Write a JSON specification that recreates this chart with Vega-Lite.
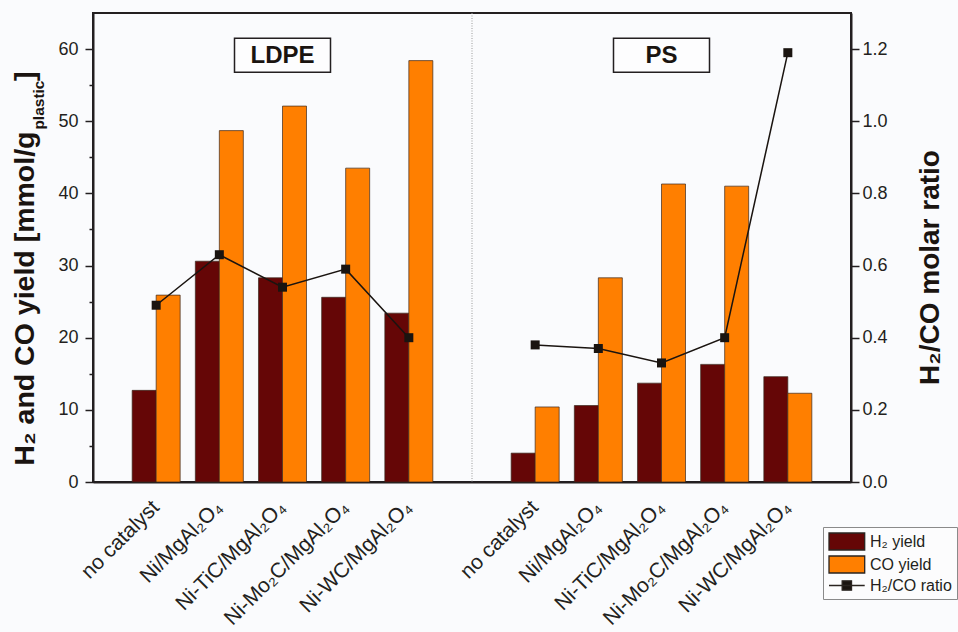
{
  "$schema": "https://vega.github.io/schema/vega-lite/v6.json",
  "width": 758,
  "height": 469,
  "autosize": {"type": "none"},
  "padding": {"left": 93, "top": 13, "right": 107, "bottom": 150},
  "background": "#fafbfd",
  "config": {
    "font": "Liberation Sans",
    "view": {"stroke": "#231f20", "strokeWidth": 2, "fill": "#fafbfd"},
    "axis": {
      "domainColor": "#231f20", "domainWidth": 2,
      "tickColor": "#231f20", "tickWidth": 1.5,
      "labelColor": "#231f20", "labelFont": "Liberation Sans",
      "titleFont": "Liberation Sans", "titleColor": "#1a1410", "grid": false
    }
  },
  "datasets": {
    "yields": [
      {"key": "LDPE|no catalyst", "polymer": "LDPE", "series": "H₂ yield", "value": 12.7},
      {"key": "LDPE|no catalyst", "polymer": "LDPE", "series": "CO yield", "value": 25.9},
      {"key": "LDPE|Ni/MgAl₂O₄", "polymer": "LDPE", "series": "H₂ yield", "value": 30.6},
      {"key": "LDPE|Ni/MgAl₂O₄", "polymer": "LDPE", "series": "CO yield", "value": 48.7},
      {"key": "LDPE|Ni-TiC/MgAl₂O₄", "polymer": "LDPE", "series": "H₂ yield", "value": 28.3},
      {"key": "LDPE|Ni-TiC/MgAl₂O₄", "polymer": "LDPE", "series": "CO yield", "value": 52.1},
      {"key": "LDPE|Ni-Mo₂C/MgAl₂O₄", "polymer": "LDPE", "series": "H₂ yield", "value": 25.6},
      {"key": "LDPE|Ni-Mo₂C/MgAl₂O₄", "polymer": "LDPE", "series": "CO yield", "value": 43.5},
      {"key": "LDPE|Ni-WC/MgAl₂O₄", "polymer": "LDPE", "series": "H₂ yield", "value": 23.4},
      {"key": "LDPE|Ni-WC/MgAl₂O₄", "polymer": "LDPE", "series": "CO yield", "value": 58.4},
      {"key": "PS|no catalyst", "polymer": "PS", "series": "H₂ yield", "value": 4.0},
      {"key": "PS|no catalyst", "polymer": "PS", "series": "CO yield", "value": 10.4},
      {"key": "PS|Ni/MgAl₂O₄", "polymer": "PS", "series": "H₂ yield", "value": 10.6},
      {"key": "PS|Ni/MgAl₂O₄", "polymer": "PS", "series": "CO yield", "value": 28.3},
      {"key": "PS|Ni-TiC/MgAl₂O₄", "polymer": "PS", "series": "H₂ yield", "value": 13.7},
      {"key": "PS|Ni-TiC/MgAl₂O₄", "polymer": "PS", "series": "CO yield", "value": 41.3},
      {"key": "PS|Ni-Mo₂C/MgAl₂O₄", "polymer": "PS", "series": "H₂ yield", "value": 16.3},
      {"key": "PS|Ni-Mo₂C/MgAl₂O₄", "polymer": "PS", "series": "CO yield", "value": 41.0},
      {"key": "PS|Ni-WC/MgAl₂O₄", "polymer": "PS", "series": "H₂ yield", "value": 14.6},
      {"key": "PS|Ni-WC/MgAl₂O₄", "polymer": "PS", "series": "CO yield", "value": 12.3}
    ],
    "ratios": [
      {"key": "LDPE|no catalyst", "polymer": "LDPE", "ratio": 0.49},
      {"key": "LDPE|Ni/MgAl₂O₄", "polymer": "LDPE", "ratio": 0.63},
      {"key": "LDPE|Ni-TiC/MgAl₂O₄", "polymer": "LDPE", "ratio": 0.54},
      {"key": "LDPE|Ni-Mo₂C/MgAl₂O₄", "polymer": "LDPE", "ratio": 0.59},
      {"key": "LDPE|Ni-WC/MgAl₂O₄", "polymer": "LDPE", "ratio": 0.40},
      {"key": "PS|no catalyst", "polymer": "PS", "ratio": 0.38},
      {"key": "PS|Ni/MgAl₂O₄", "polymer": "PS", "ratio": 0.37},
      {"key": "PS|Ni-TiC/MgAl₂O₄", "polymer": "PS", "ratio": 0.33},
      {"key": "PS|Ni-Mo₂C/MgAl₂O₄", "polymer": "PS", "ratio": 0.40},
      {"key": "PS|Ni-WC/MgAl₂O₄", "polymer": "PS", "ratio": 1.19}
    ],
    "panels": [
      {"key": "LDPE|Ni-TiC/MgAl₂O₄", "label": "LDPE"},
      {"key": "PS|Ni-TiC/MgAl₂O₄", "label": "PS"}
    ],
    "legendEntries": [
      {"series": "H₂ yield"},
      {"series": "CO yield"},
      {"series": "H₂/CO ratio"}
    ]
  },
  "layer": [
    {
      "resolve": {"axis": {"y": "independent"}},
      "layer": [
        {
          "data": {"name": "yields"},
          "mark": {"type": "bar", "stroke": "#3b2a20", "strokeWidth": 0.7},
          "encoding": {
            "x": {
              "field": "key", "type": "nominal",
              "scale": {"type": "band", "domain": ["LDPE|no catalyst", "LDPE|Ni/MgAl₂O₄", "LDPE|Ni-TiC/MgAl₂O₄", "LDPE|Ni-Mo₂C/MgAl₂O₄", "LDPE|Ni-WC/MgAl₂O₄", " ", "PS|no catalyst", "PS|Ni/MgAl₂O₄", "PS|Ni-TiC/MgAl₂O₄", "PS|Ni-Mo₂C/MgAl₂O₄", "PS|Ni-WC/MgAl₂O₄"], "paddingInner": 0.24, "paddingOuter": 0.62},
              "sort": null,
              "axis": {
                "title": null, "ticks": false, "labelAngle": -45, "labelAlign": "right", "labelBaseline": "middle",
                "labelFontSize": 21, "labelPadding": 22, "labelLimit": 300,
                "labelExpr": "slice(datum.label, indexof(datum.label, '|') + 1)"
              }
            },
            "xOffset": {"field": "series", "type": "nominal", "scale": {"domain": ["H₂ yield", "CO yield"], "paddingInner": 0, "paddingOuter": 0}},
            "y": {
              "field": "value", "type": "quantitative",
              "scale": {"domain": [0, 65], "nice": false, "zero": true},
              "axis": {
                "orient": "left",
                "values": [0, 5, 10, 15, 20, 25, 30, 35, 40, 45, 50, 55, 60],
                "labelExpr": "datum.value % 10 === 0 ? datum.label : ''",
                "tickSize": {"condition": {"test": "datum.value % 10 === 0", "value": 8}, "value": 4},
                "labelFontSize": 18, "labelPadding": 7,
                "title": "H₂ and CO yield [mmol/g",
                "titleFontSize": 28.5, "titleFontWeight": "bold",
                "titleAngle": 270, "titleX": -60, "titleY": 118, "titleBaseline": "alphabetic", "titleAlign": "right"
              }
            },
            "fill": {
              "field": "series", "type": "nominal",
              "scale": {"domain": ["H₂ yield", "CO yield"], "range": ["#650606", "#ff7f00"]},
              "legend": null
            }
          }
        },
        {
          "data": {"values": [{}]},
          "mark": {"type": "rule", "stroke": "#9a9a9a", "strokeWidth": 1, "strokeDash": [1, 1.5]},
          "encoding": {
            "x": {"datum": " ", "type": "nominal", "scale": {"type": "band", "domain": ["LDPE|no catalyst", "LDPE|Ni/MgAl₂O₄", "LDPE|Ni-TiC/MgAl₂O₄", "LDPE|Ni-Mo₂C/MgAl₂O₄", "LDPE|Ni-WC/MgAl₂O₄", " ", "PS|no catalyst", "PS|Ni/MgAl₂O₄", "PS|Ni-TiC/MgAl₂O₄", "PS|Ni-Mo₂C/MgAl₂O₄", "PS|Ni-WC/MgAl₂O₄"], "paddingInner": 0.24, "paddingOuter": 0.62}}
          }
        },
        {
          "data": {"name": "panels"},
          "mark": {"type": "bar", "width": 96, "fill": "#fdfdfe", "stroke": "#231f20", "strokeWidth": 1.5},
          "encoding": {
            "x": {"field": "key", "type": "nominal", "sort": null, "scale": {"type": "band", "domain": ["LDPE|no catalyst", "LDPE|Ni/MgAl₂O₄", "LDPE|Ni-TiC/MgAl₂O₄", "LDPE|Ni-Mo₂C/MgAl₂O₄", "LDPE|Ni-WC/MgAl₂O₄", " ", "PS|no catalyst", "PS|Ni/MgAl₂O₄", "PS|Ni-TiC/MgAl₂O₄", "PS|Ni-Mo₂C/MgAl₂O₄", "PS|Ni-WC/MgAl₂O₄"], "paddingInner": 0.24, "paddingOuter": 0.62}},
            "y": {
              "datum": 61.5, "type": "quantitative", "scale": {"domain": [0, 65], "nice": false},
              "axis": {
                "orient": "left", "domain": false, "ticks": false, "labels": false, "grid": false,
                "title": "plastic", "titleFontSize": 15.5, "titleFontWeight": "bold",
                "titleAngle": 270, "titleX": -49.5, "titleY": 67, "titleBaseline": "alphabetic", "titleAlign": "right"
              }
            },
            "y2": {"datum": 56.8}
          }
        },
        {
          "data": {"name": "panels"},
          "mark": {"type": "text", "fontSize": 24, "fontWeight": "bold", "font": "Liberation Sans", "color": "#1a1410", "baseline": "middle", "align": "center", "dy": 1},
          "encoding": {
            "x": {"field": "key", "type": "nominal", "sort": null, "scale": {"type": "band", "domain": ["LDPE|no catalyst", "LDPE|Ni/MgAl₂O₄", "LDPE|Ni-TiC/MgAl₂O₄", "LDPE|Ni-Mo₂C/MgAl₂O₄", "LDPE|Ni-WC/MgAl₂O₄", " ", "PS|no catalyst", "PS|Ni/MgAl₂O₄", "PS|Ni-TiC/MgAl₂O₄", "PS|Ni-Mo₂C/MgAl₂O₄", "PS|Ni-WC/MgAl₂O₄"], "paddingInner": 0.24, "paddingOuter": 0.62}},
            "y": {
              "datum": 59.15, "type": "quantitative", "scale": {"domain": [0, 65], "nice": false},
              "axis": {
                "orient": "left", "domain": false, "ticks": false, "labels": false, "grid": false,
                "title": "]", "titleFontSize": 28.5, "titleFontWeight": "bold",
                "titleAngle": 270, "titleX": -60, "titleY": 58, "titleBaseline": "alphabetic", "titleAlign": "right"
              }
            },
            "text": {"field": "label"}
          }
        }
      ]
    },
    {
      "data": {"name": "ratios"},
      "layer": [
        {
          "mark": {"type": "line", "strokeWidth": 1.5, "color": "#1a1410"},
          "encoding": {
            "x": {"field": "key", "type": "nominal", "sort": null, "scale": {"type": "band", "domain": ["LDPE|no catalyst", "LDPE|Ni/MgAl₂O₄", "LDPE|Ni-TiC/MgAl₂O₄", "LDPE|Ni-Mo₂C/MgAl₂O₄", "LDPE|Ni-WC/MgAl₂O₄", " ", "PS|no catalyst", "PS|Ni/MgAl₂O₄", "PS|Ni-TiC/MgAl₂O₄", "PS|Ni-Mo₂C/MgAl₂O₄", "PS|Ni-WC/MgAl₂O₄"], "paddingInner": 0.24, "paddingOuter": 0.62}},
            "y": {
              "field": "ratio", "type": "quantitative",
              "scale": {"domain": [0, 1.3], "nice": false},
              "axis": {
                "orient": "right",
                "values": [0, 0.1, 0.2, 0.3, 0.4, 0.5, 0.6, 0.7, 0.8, 0.9, 1.0, 1.1, 1.2],
                "format": ".1f",
                "labelExpr": "round(datum.value * 10) % 2 === 0 ? datum.label : ''",
                "tickSize": {"condition": {"test": "round(datum.value * 10) % 2 === 0", "value": 8}, "value": 4},
                "labelFontSize": 18, "labelPadding": 3,
                "title": "H₂/CO molar ratio",
                "titleFontSize": 28, "titleFontWeight": "bold",
                "titleAngle": 270, "titleX": 87, "titleY": 254, "titleBaseline": "alphabetic", "titleAlign": "center"
              }
            },
            "detail": {"field": "polymer"}
          }
        },
        {
          "mark": {"type": "point", "shape": "square", "size": 81, "filled": true, "color": "#1a1410", "opacity": 1},
          "encoding": {
            "x": {"field": "key", "type": "nominal", "sort": null, "scale": {"type": "band", "domain": ["LDPE|no catalyst", "LDPE|Ni/MgAl₂O₄", "LDPE|Ni-TiC/MgAl₂O₄", "LDPE|Ni-Mo₂C/MgAl₂O₄", "LDPE|Ni-WC/MgAl₂O₄", " ", "PS|no catalyst", "PS|Ni/MgAl₂O₄", "PS|Ni-TiC/MgAl₂O₄", "PS|Ni-Mo₂C/MgAl₂O₄", "PS|Ni-WC/MgAl₂O₄"], "paddingInner": 0.24, "paddingOuter": 0.62}},
            "y": {"field": "ratio", "type": "quantitative", "scale": {"domain": [0, 1.3], "nice": false}}
          }
        }
      ]
    },
    {
      "data": {"name": "legendEntries"},
      "mark": {"type": "point", "filled": true, "opacity": 0, "stroke": "#2a2420", "strokeWidth": 1.3},
      "encoding": {
        "color": {
          "field": "series", "type": "nominal",
          "scale": {"domain": ["H₂ yield", "CO yield", "H₂/CO ratio"], "range": ["#650606", "#ff7f00", "#1a1410"]},
          "legend": {
            "orient": "none", "legendX": 730, "legendY": 514, "title": null,
            "symbolSize": 289, "symbolOpacity": 1, "symbolStrokeWidth": 1.3,
            "labelFontSize": 16, "labelFont": "Liberation Sans", "labelColor": "#231f20",
            "labelOffset": 23, "rowPadding": 0, "padding": 5,
            "fillColor": "#fcfcfd", "strokeColor": "#8a8a8a"
          }
        },
        "shape": {
          "field": "series", "type": "nominal",
          "scale": {"domain": ["H₂ yield", "CO yield", "H₂/CO ratio"], "range": ["M-1,-1H3.2V1H-1Z", "M-1,-1H3.2V1H-1Z", "M-1,0H3.2M0.55,-0.55H1.65V0.55H0.55Z"]},
          "legend": {
            "orient": "none", "legendX": 730, "legendY": 514, "title": null,
            "symbolSize": 289, "symbolOpacity": 1, "symbolStrokeWidth": 1.3,
            "labelFontSize": 16, "labelFont": "Liberation Sans", "labelColor": "#231f20",
            "labelOffset": 23, "rowPadding": 0, "padding": 5,
            "fillColor": "#fcfcfd", "strokeColor": "#8a8a8a"
          }
        }
      }
    }
  ],
  "resolve": {"scale": {"y": "independent"}}
}
